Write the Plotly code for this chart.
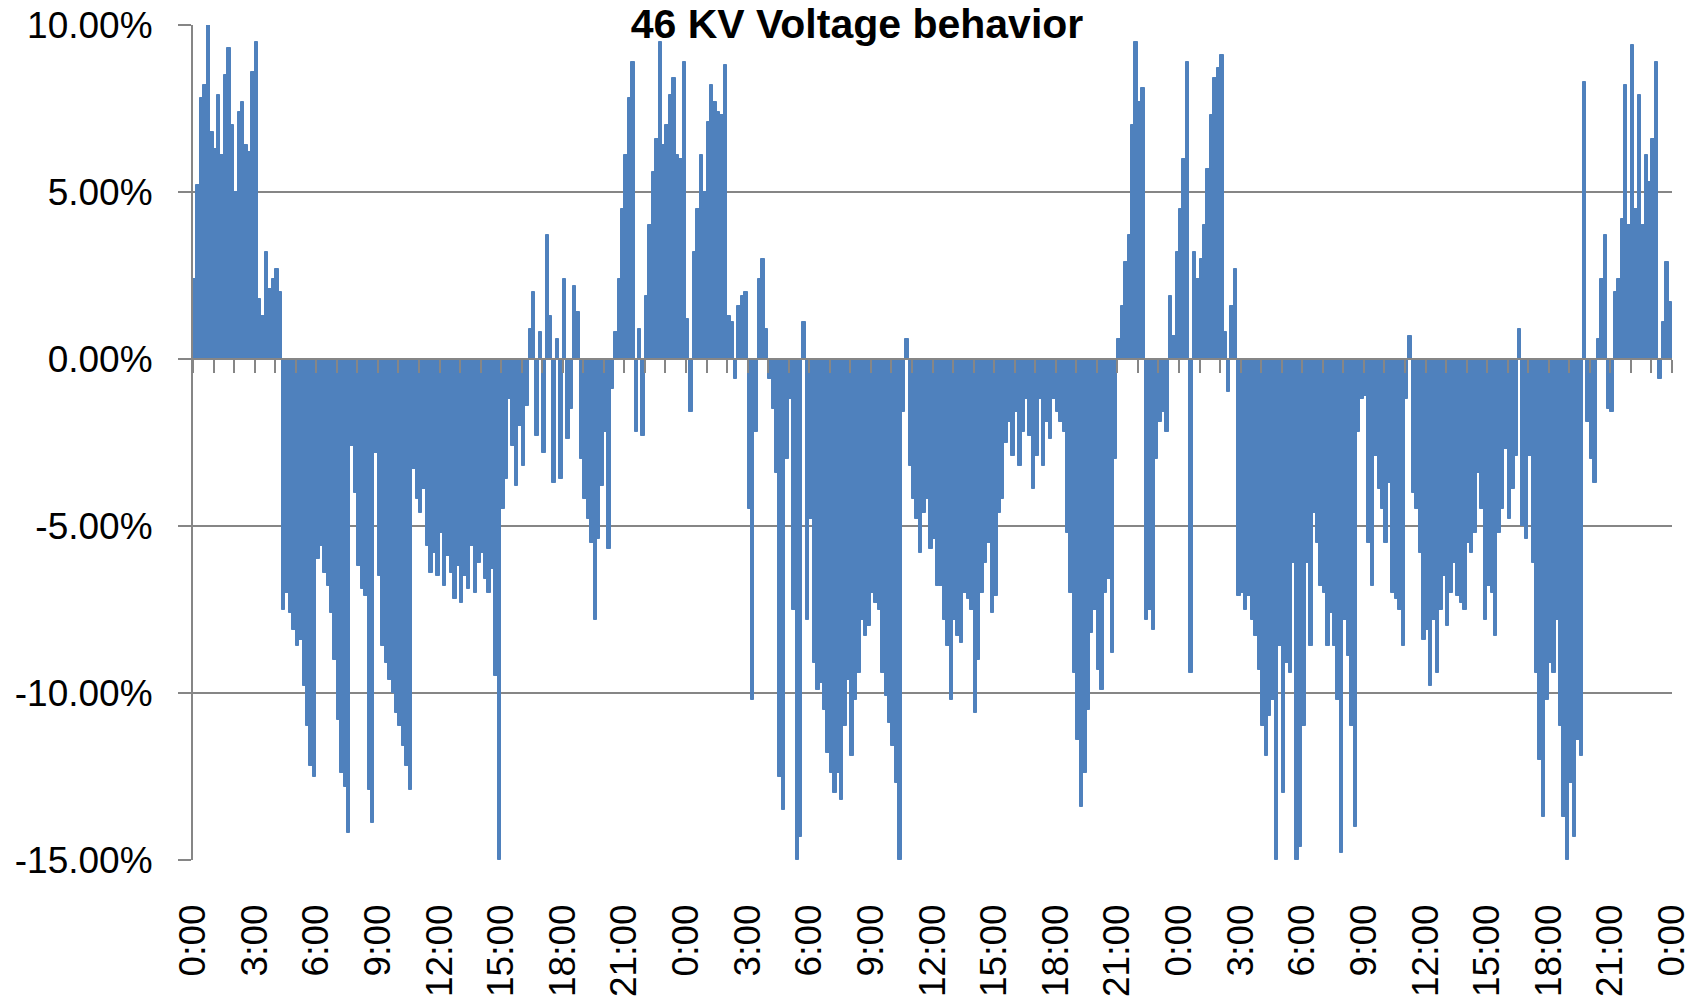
import plotly.graph_objects as go

# ---------------- data (voltage deviation in %, 10-minute bins) ----------------
bin_minutes = 10

day1_pct = [
    2.4, 5.2, 7.8, 8.2, 10.0, 6.8,
    6.3, 7.9, 6.1, 8.5, 9.3, 7.0,
    5.0, 7.4, 7.7, 6.4, 6.2, 8.6,
    9.5, 1.8, 1.3, 3.2, 2.1, 2.4,
    2.7, 2.0, -7.5, -7.0, -7.6, -8.1,
    -8.6, -8.4, -9.8, -11.0, -12.2, -12.5,
    -6.0, -5.6, -6.4, -6.8, -7.6, -9.0,
    -10.8, -12.4, -12.8, -14.2, -2.6, -4.0,
    -6.2, -6.9, -7.1, -12.9, -13.9, -2.8,
    -6.5, -8.6, -9.1, -9.6, -10.0, -10.6,
    -11.0, -11.6, -12.2, -12.9, -3.3, -4.2,
    -4.6, -3.9, -5.6, -6.4, -5.8, -6.5,
    -5.2, -6.8, -5.9, -6.4, -7.2, -6.2,
    -7.3, -6.5, -6.9, -5.6, -7.0, -6.1,
    -5.8, -6.6, -7.0, -6.3, -9.5, -15.0,
    -4.5, -3.6, -1.2, -2.6, -3.8, -2.0,
    -3.2, -1.4, 0.9, 2.0, -2.3, 0.8,
    -2.8, 3.7, 1.3, -3.7, 0.6, -3.6,
    2.4, -2.4, -1.5, 2.2, 1.4, -3.0,
    -4.2, -4.8, -5.5, -7.8, -5.4, -3.8,
    -2.2, -5.7, -0.9, 0.8, 2.4, 4.5,
    6.1, 7.8, 8.9, -2.2, 0.9, -2.3,
    1.9, 4.0, 5.6, 6.6, 9.5, 6.4,
    7.0, 7.9, 8.4, 6.1, 6.0, 8.9,
]

day2_pct = [
    1.2, -1.6, 3.2, 4.5, 6.1, 5.0,
    7.1, 8.2, 7.7, 7.4, 7.3, 8.8,
    1.3, 1.1, -0.6, 1.6, 1.9, 2.0,
    -4.5, -10.2, -2.2, 2.4, 3.0, 0.9,
    -0.6, -1.5, -3.4, -12.5, -13.5, -3.0,
    -1.2, -7.5, -15.0, -14.3, 1.1, -7.8,
    -4.8, -9.1, -9.9, -9.7, -10.5, -11.8,
    -12.4, -13.0, -12.4, -13.2, -11.0, -9.6,
    -11.9, -10.2, -9.4, -7.8, -8.3, -8.0,
    -7.0, -7.3, -7.5, -9.4, -10.1, -10.9,
    -11.6, -12.7, -15.0, -1.6, 0.6, -3.2,
    -4.2, -4.8, -5.8, -4.6, -4.2, -5.7,
    -5.4, -6.8, -6.8, -7.8, -8.6, -10.2,
    -7.8, -8.3, -8.5, -7.0, -7.2, -7.5,
    -10.6, -9.0, -7.0, -6.1, -5.5, -7.6,
    -7.1, -4.6, -4.2, -2.5, -1.9, -2.9,
    -1.6, -3.2, -2.2, -1.2, -2.3, -3.9,
    -2.9, -1.2, -3.2, -1.9, -2.4, -1.2,
    -1.6, -1.9, -2.2, -5.2, -7.0, -9.4,
    -11.4, -13.4, -12.4, -10.5, -8.2, -7.5,
    -9.3, -9.9, -7.0, -6.6, -8.8, -3.0,
    0.6, 1.6, 2.9, 3.7, 7.0, 9.5,
    7.7, 8.1, -7.8, -7.5, -8.1, -3.0,
    -1.9, -1.6, -2.2, 1.9, 0.7, 3.2,
]

day3_pct = [
    4.5, 6.0, 8.9, -9.4, 3.2, 2.4,
    3.0, 4.0, 5.7, 7.3, 8.4, 8.7,
    9.1, 0.8, -1.0, 1.6, 2.7, -7.1,
    -7.0, -7.5, -7.1, -7.8, -8.3, -9.3,
    -11.0, -11.9, -10.7, -10.2, -15.0, -8.6,
    -13.0, -9.1, -9.4, -6.1, -15.0, -14.6,
    -11.0, -6.1, -8.6, -4.6, -5.5, -6.8,
    -7.0, -8.6, -7.6, -8.6, -10.2, -14.8,
    -7.8, -8.9, -11.0, -14.0, -2.2, -1.2,
    -1.1, -5.5, -6.8, -2.9, -3.9, -4.5,
    -5.5, -3.7, -7.0, -7.2, -7.5, -8.6,
    -1.2, 0.7, -4.0, -4.5, -5.8, -8.4,
    -8.1, -9.8, -7.8, -9.4, -7.5, -6.5,
    -8.0, -7.0, -6.1, -7.1, -7.3, -7.5,
    -5.5, -5.8, -5.2, -3.4, -4.5, -7.8,
    -6.8, -7.0, -8.3, -5.2, -4.5, -2.7,
    -4.8, -3.9, -2.9, 0.9, -5.0, -5.4,
    -2.9, -6.1, -9.4, -12.0, -13.7, -10.2,
    -9.1, -9.4, -7.8, -11.0, -13.7, -15.0,
    -12.7, -14.3, -11.4, -11.9, 8.3, -1.9,
    -3.0, -3.7, 0.6, 2.4, 3.7, -1.5,
    -1.6, 2.0, 2.4, 4.2, 8.2, 4.0,
    9.4, 4.5, 7.9, 4.0, 6.1, 5.3,
    6.6, 8.9, -0.6, 1.1, 2.9, 1.7,
]

time_labels = ["0:00", "3:00", "6:00", "9:00", "12:00", "15:00", "18:00", "21:00",
               "0:00", "3:00", "6:00", "9:00", "12:00", "15:00", "18:00", "21:00",
               "0:00", "3:00", "6:00", "9:00", "12:00", "15:00", "18:00", "21:00",
               "0:00"]
label_hours = [3 * i for i in range(len(time_labels))]

y_tick_values = [-15, -10, -5, 0, 5, 10]
y_tick_labels = ["-15.00%", "-10.00%", "-5.00%", "0.00%", "5.00%", "10.00%"]

title_text = "46 KV Voltage behavior"

# ---------------- build ----------------
deviation_pct = day1_pct + day2_pct + day3_pct
bin_hours = bin_minutes / 60.0
x_hours = [(i + 0.5) * bin_hours for i in range(len(deviation_pct))]
total_hours = label_hours[-1]
hour_ticks = list(range(0, total_hours + 1))

GRAY = "#868686"
BLUE = "#4F81BD"
FONT = "Liberation Sans"

fig = go.Figure()
fig.add_trace(go.Bar(
    x=x_hours, y=deviation_pct, width=bin_hours,
    marker=dict(color=BLUE, line=dict(width=1, color=BLUE)),
    showlegend=False, hoverinfo="x+y",
))
# invisible trace so the zero-level category axis (x2) is rendered
fig.add_trace(go.Scatter(x=[0, total_hours], y=[0, 0], xaxis="x2", yaxis="y",
                         mode="lines", line=dict(width=0, color="rgba(0,0,0,0)"),
                         showlegend=False, hoverinfo="skip"))

fig.update_layout(
    width=1703, height=1000,
    margin=dict(l=193, r=31, t=25, b=140, autoexpand=False),
    plot_bgcolor="white", paper_bgcolor="white",
    bargap=0, showlegend=False,
    font=dict(family=FONT, color="black"),
    title=dict(text="<b>" + title_text + "</b>", xref="container", x=857 / 1703,
               xanchor="center", yref="container", y=1 - 24 / 1000, yanchor="middle",
               automargin=False,
               font=dict(family=FONT, size=41, color="black")),
    xaxis=dict(range=[0, total_hours], tickmode="array", tickvals=label_hours,
               ticktext=time_labels, tickangle=-90, showgrid=False, showline=False,
               zeroline=False, ticks="", automargin=False,
               tickfont=dict(family=FONT, size=37, color="black"),
               ticklabelstandoff=36),
    xaxis2=dict(range=[0, total_hours], overlaying="x", anchor="free", position=0.6,
                side="bottom", showline=True, linecolor=GRAY, linewidth=2,
                ticks="outside", tickmode="array", tickvals=hour_ticks, ticklen=13,
                tickwidth=2, tickcolor=GRAY, showticklabels=False, showgrid=False,
                zeroline=False, automargin=False),
    yaxis=dict(range=[-15, 10], tickmode="array", tickvals=y_tick_values,
               ticktext=y_tick_labels, showgrid=True, gridcolor=GRAY, gridwidth=1.5,
               showline=True, linecolor=GRAY, linewidth=2, ticks="outside", ticklen=13,
               tickwidth=1.5, tickcolor=GRAY, zeroline=False, automargin=False,
               tickfont=dict(family=FONT, size=37, color="black"),
               ticklabelstandoff=18),
)

fig.write_html("out.html", config={"displayModeBar": False},
               post_script="document.body.style.margin='0';document.body.style.overflow='hidden';")
